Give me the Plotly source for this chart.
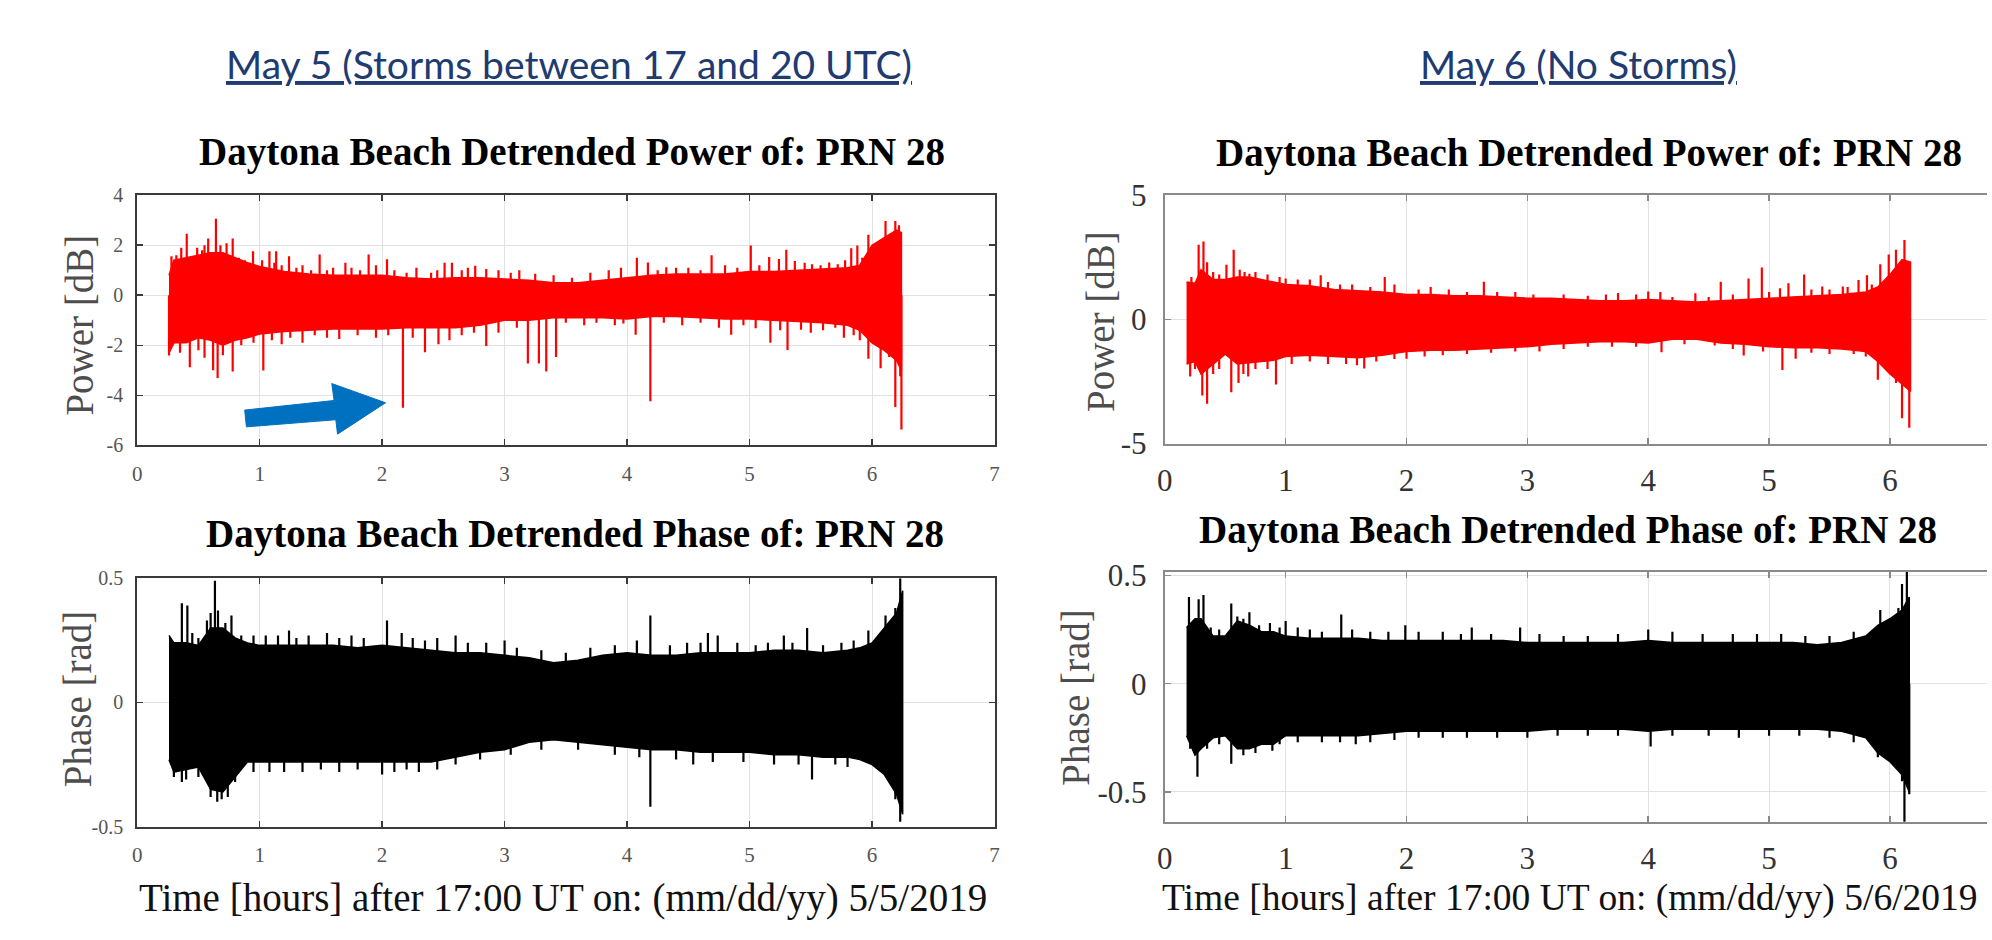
import plotly.graph_objects as go

W, H = 1992, 940

# ---------------- data ----------------
# May 5 - detrended power [dB]: envelope of the dense trace, then isolated spikes
p5_t  = [0.26, 0.3, 0.4, 0.5, 0.6, 0.7, 0.8, 0.9, 1.0, 1.2, 1.4, 1.6, 1.8, 2.0, 2.2, 2.4, 2.6, 2.8, 3.0,
         3.2, 3.4, 3.6, 3.8, 4.0, 4.2, 4.4, 4.6, 4.8, 5.0, 5.2, 5.4, 5.6, 5.8, 5.9, 6.0, 6.1, 6.2, 6.24]
p5_hi = [0.8, 1.4, 1.5, 1.6, 1.7, 1.7, 1.5, 1.3, 1.15, 0.95, 0.85, 0.8, 0.8, 0.8, 0.7, 0.65, 0.7, 0.7, 0.65,
         0.6, 0.5, 0.5, 0.6, 0.7, 0.8, 0.85, 0.85, 0.85, 0.95, 0.95, 1.0, 1.05, 1.1, 1.2, 2.0, 2.3, 2.6, 2.5]
p5_lo = [-2.3, -1.9, -1.9, -1.7, -1.8, -2.0, -1.8, -1.7, -1.55, -1.45, -1.4, -1.35, -1.35, -1.35, -1.3, -1.3, -1.3, -1.2, -1.0,
         -1.0, -0.9, -0.9, -0.9, -0.95, -0.85, -0.85, -0.9, -0.95, -0.95, -1.0, -1.05, -1.1, -1.2, -1.4, -1.9, -2.2, -2.6, -3.0]
p5_spk_t = [0.28, 0.32, 0.36, 0.405, 0.45, 0.49, 0.53, 0.55, 0.58, 0.643, 0.68, 0.70, 0.73, 0.78, 0.83, 0.88, 0.92,
            0.946, 1.02, 1.08, 1.12, 1.135, 1.18, 1.24, 1.3, 1.35, 1.42, 1.49, 1.55, 1.6, 1.70, 1.75, 1.82, 1.89,
            1.95, 2.04, 2.1, 2.2, 2.28, 2.4, 2.45, 2.51, 2.57, 2.65, 2.7, 2.76, 2.85, 2.95, 3.05, 3.12, 3.25, 3.4,
            3.55, 3.7, 3.85, 3.95, 4.08, 4.17, 4.25, 4.32, 4.4, 4.5, 4.6, 4.69, 4.8, 4.9, 5.01, 5.08, 5.16, 5.24,
            5.30, 5.37, 5.45, 5.51, 5.58, 5.65, 5.72, 5.78, 5.83, 5.88, 5.92, 5.97, 6.11, 6.19, 6.22,
            0.26, 0.35, 0.43, 0.5, 0.55, 0.62, 0.657, 0.7, 0.78, 0.85, 0.95, 1.03, 1.1, 1.18, 1.25, 1.35, 1.45,
            1.55, 1.65, 1.8, 1.95, 2.05, 2.17, 2.25, 2.35, 2.46, 2.55, 2.65, 2.75, 2.85, 2.95, 3.1, 3.19, 3.28,
            3.34, 3.42, 3.5, 3.65, 3.75, 3.9, 3.97, 4.07, 4.19, 4.3, 4.45, 4.6, 4.75, 4.85, 4.95, 5.05, 5.17,
            5.25, 5.31, 5.42, 5.5, 5.6, 5.7, 5.77, 5.85, 5.9, 5.97, 6.07, 6.14, 6.19, 6.23, 6.24]
p5_spk_v = [1.56, 1.6, 1.9, 2.46, 1.5, 1.9, 1.8, 2.0, 2.27, 3.06, 2.0, 1.7, 2.08, 2.27, 1.5, 1.4, 1.3,
            1.76, 1.4, 1.76, 1.3, 1.76, 1.2, 1.56, 1.1, 1.2, 1.0, 1.63, 1.0, 1.1, 1.3, 1.1, 1.0, 1.63,
            1.2, 1.44, 1.0, 0.9, 1.1, 0.9, 1.0, 1.3, 1.3, 1.0, 1.1, 1.18, 1.05, 1.0, 0.9, 1.0, 0.86, 0.8,
            0.7, 0.9, 1.0, 1.1, 1.5, 1.31, 1.0, 1.12, 1.1, 1.1, 1.0, 1.6, 1.2, 1.1, 1.99, 1.2, 1.53, 1.45,
            1.82, 1.37, 1.3, 1.24, 1.2, 1.31, 1.24, 1.4, 1.88, 1.99, 1.5, 2.42, 2.97, 2.97, 2.8,
            -2.41, -2.3, -2.88, -2.2, -2.5, -3.0, -3.31, -2.4, -3.05, -2.0, -1.9, -3.01, -1.8, -1.96, -1.7, -1.9, -1.6,
            -1.7, -1.75, -1.6, -1.7, -1.6, -4.49, -1.7, -2.28, -1.96, -1.8, -1.6, -1.5, -2.03, -1.5, -1.3, -2.73, -2.73,
            -3.05, -2.47, -1.1, -1.2, -1.1, -1.2, -1.13, -1.58, -4.24, -1.1, -1.2, -1.1, -1.3, -1.58, -1.2, -1.32, -1.9,
            -1.4, -2.19, -1.38, -1.5, -1.4, -1.3, -1.7, -1.6, -1.8, -2.54, -2.92, -2.47, -4.46, -3.24, -5.36]

# May 5 - detrended phase [rad]
f5_t  = [0.26, 0.3, 0.4, 0.5, 0.6, 0.7, 0.8, 0.9, 1.0, 1.2, 1.4, 1.6, 1.8, 2.0, 2.2, 2.4, 2.6, 2.8, 3.0,
         3.2, 3.4, 3.6, 3.8, 4.0, 4.2, 4.4, 4.6, 4.8, 5.0, 5.2, 5.4, 5.6, 5.8, 5.9, 6.0, 6.1, 6.2, 6.25]
f5_hi = [0.27, 0.24, 0.24, 0.23, 0.3, 0.3, 0.26, 0.24, 0.23, 0.23, 0.23, 0.23, 0.22, 0.23, 0.22, 0.21, 0.2, 0.2, 0.19,
         0.18, 0.16, 0.17, 0.19, 0.2, 0.19, 0.19, 0.2, 0.2, 0.2, 0.21, 0.21, 0.2, 0.21, 0.22, 0.24, 0.3, 0.36, 0.45]
f5_lo = [-0.23, -0.28, -0.27, -0.26, -0.35, -0.36, -0.3, -0.24, -0.24, -0.24, -0.24, -0.24, -0.24, -0.24, -0.24, -0.24, -0.22, -0.2, -0.19,
         -0.16, -0.15, -0.16, -0.17, -0.18, -0.19, -0.19, -0.2, -0.2, -0.2, -0.21, -0.21, -0.22, -0.22, -0.23, -0.25, -0.29, -0.37, -0.45]
f5_spk_t = [0.365, 0.41, 0.45, 0.5, 0.57, 0.60, 0.635, 0.66, 0.72, 0.77, 0.85, 0.95, 1.05, 1.15, 1.24, 1.3, 1.4,
            1.55, 1.65, 1.75, 1.85, 2.04, 2.16, 2.25, 2.35, 2.45, 2.6, 2.7, 2.85, 3.0, 3.1, 3.3, 3.5, 3.7, 3.9,
            4.08, 4.19, 4.35, 4.49, 4.6, 4.66, 4.74, 4.9, 5.05, 5.15, 5.28, 5.35, 5.47, 5.6, 5.75, 5.85, 5.97,
            6.11, 6.19, 6.23,
            0.30, 0.365, 0.4, 0.5, 0.60, 0.654, 0.69, 0.74, 0.8, 0.95, 1.08, 1.2, 1.35, 1.5, 1.65, 1.8, 2.0,
            2.1, 2.2, 2.3, 2.45, 2.6, 2.8, 3.05, 3.3, 3.6, 3.9, 4.1, 4.19, 4.4, 4.54, 4.7, 4.95, 5.2, 5.4,
            5.51, 5.7, 5.8, 6.19, 6.23]
f5_spk_v = [0.40, 0.39, 0.28, 0.26, 0.33, 0.36, 0.49, 0.37, 0.32, 0.35, 0.27, 0.27, 0.27, 0.27, 0.29, 0.26, 0.27,
            0.28, 0.26, 0.27, 0.26, 0.33, 0.28, 0.26, 0.25, 0.26, 0.27, 0.24, 0.24, 0.25, 0.22, 0.21, 0.2, 0.22, 0.23,
            0.25, 0.35, 0.23, 0.24, 0.24, 0.28, 0.27, 0.24, 0.23, 0.24, 0.27, 0.24, 0.30, 0.23, 0.24, 0.25, 0.29,
            0.35, 0.38, 0.50,
            -0.30, -0.32, -0.31, -0.30, -0.38, -0.40, -0.39, -0.38, -0.32, -0.28, -0.28, -0.28, -0.28, -0.27, -0.28, -0.27, -0.29,
            -0.28, -0.27, -0.28, -0.27, -0.25, -0.23, -0.21, -0.19, -0.19, -0.21, -0.22, -0.42, -0.23, -0.25, -0.24, -0.24, -0.25, -0.25,
            -0.31, -0.25, -0.26, -0.39, -0.48]

# May 6 - detrended power [dB]
p6_t  = [0.18, 0.25, 0.3, 0.4, 0.5, 0.6, 0.7, 0.8, 0.9, 1.0, 1.2, 1.4, 1.6, 1.8, 2.0, 2.2, 2.4, 2.6, 2.8, 3.0,
         3.2, 3.4, 3.6, 3.8, 4.0, 4.2, 4.4, 4.6, 4.8, 5.0, 5.2, 5.4, 5.6, 5.8, 5.9, 6.0, 6.1, 6.17]
p6_hi = [1.5, 1.45, 2.0, 1.6, 1.6, 1.7, 1.7, 1.6, 1.5, 1.4, 1.35, 1.2, 1.15, 1.1, 1.0, 1.0, 0.95, 0.95, 0.9, 0.85,
         0.85, 0.8, 0.75, 0.75, 0.8, 0.75, 0.7, 0.75, 0.8, 0.85, 0.9, 0.95, 1.0, 1.1, 1.3, 1.8, 2.4, 2.3]
p6_lo = [-1.8, -1.7, -2.2, -1.8, -1.4, -1.8, -1.75, -1.7, -1.65, -1.5, -1.45, -1.5, -1.55, -1.45, -1.3, -1.25, -1.25, -1.2, -1.15, -1.1,
         -1.0, -0.95, -0.9, -0.9, -0.95, -0.8, -0.8, -0.95, -1.0, -1.1, -1.15, -1.15, -1.2, -1.3, -1.7, -2.2, -2.6, -2.9]
p6_spk_t = [0.22, 0.28, 0.32, 0.35, 0.4, 0.45, 0.51, 0.57, 0.62, 0.66, 0.70, 0.75, 0.85, 0.95, 1.0, 1.1, 1.2,
            1.29, 1.35, 1.45, 1.55, 1.7, 1.82, 1.9, 2.1, 2.2, 2.35, 2.5, 2.64, 2.75, 2.9, 3.05, 3.3, 3.5, 3.65,
            3.75, 3.9, 4.0, 4.1, 4.2, 4.39, 4.5, 4.6, 4.7, 4.83, 4.94, 5.0, 5.09, 5.16, 5.29, 5.35, 5.44, 5.5,
            5.61, 5.65, 5.74, 5.81, 5.85, 5.92, 5.99, 6.05, 6.12,
            0.21, 0.25, 0.31, 0.35, 0.4, 0.45, 0.55, 0.61, 0.65, 0.69, 0.75, 0.85, 0.92, 1.05, 1.2, 1.35, 1.5,
            1.59, 1.65, 1.75, 1.9, 2.0, 2.15, 2.3, 2.5, 2.7, 2.9, 3.1, 3.3, 3.5, 3.7, 3.9, 4.11, 4.3, 4.55,
            4.7, 4.79, 4.95, 5.11, 5.22, 5.35, 5.5, 5.7, 5.8, 5.90, 6.05, 6.10, 6.16]
p6_spk_v = [1.7, 3.0, 3.13, 2.3, 1.9, 1.8, 2.2, 2.8, 2.0, 1.9, 1.83, 1.9, 1.8, 1.7, 1.64, 1.6, 1.6,
            1.77, 1.5, 1.4, 1.4, 1.3, 1.7, 1.4, 1.2, 1.3, 1.2, 1.1, 1.51, 1.1, 1.1, 1.0, 1.0, 0.95, 1.0,
            1.06, 1.0, 1.12, 1.1, 0.9, 1.05, 0.9, 1.51, 1.0, 1.64, 2.09, 1.1, 1.25, 1.45, 1.8, 1.2, 1.32, 1.2,
            1.32, 1.3, 1.58, 1.77, 1.4, 2.22, 2.61, 2.8, 3.19,
            -2.3, -2.0, -3.07, -3.4, -2.2, -2.0, -2.94, -2.56, -2.2, -2.3, -2.0, -2.0, -2.62, -1.8, -1.7, -1.8, -1.8,
            -1.85, -1.98, -1.7, -1.6, -1.59, -1.5, -1.45, -1.4, -1.35, -1.3, -1.3, -1.2, -1.1, -1.1, -1.1, -1.33, -1.0, -1.05,
            -1.2, -1.46, -1.3, -2.04, -1.59, -1.35, -1.4, -1.4, -1.5, -2.43, -2.56, -3.98, -4.37]

# May 6 - detrended phase [rad]
f6_t  = [0.18, 0.25, 0.3, 0.4, 0.5, 0.6, 0.7, 0.8, 0.9, 1.0, 1.2, 1.4, 1.6, 1.8, 2.0, 2.2, 2.4, 2.6, 2.8, 3.0,
         3.2, 3.4, 3.6, 3.8, 4.0, 4.2, 4.4, 4.6, 4.8, 5.0, 5.2, 5.4, 5.6, 5.8, 5.9, 6.0, 6.1, 6.16]
f6_hi = [0.26, 0.3, 0.3, 0.22, 0.22, 0.29, 0.27, 0.24, 0.24, 0.22, 0.21, 0.21, 0.21, 0.2, 0.2, 0.2, 0.2, 0.2, 0.2, 0.19,
         0.19, 0.19, 0.19, 0.19, 0.2, 0.19, 0.19, 0.19, 0.19, 0.19, 0.19, 0.18, 0.19, 0.22, 0.27, 0.3, 0.34, 0.4]
f6_lo = [-0.24, -0.33, -0.3, -0.25, -0.24, -0.3, -0.3, -0.28, -0.28, -0.24, -0.24, -0.24, -0.24, -0.23, -0.22, -0.22, -0.22, -0.22, -0.22, -0.22,
         -0.21, -0.21, -0.21, -0.21, -0.22, -0.21, -0.21, -0.21, -0.21, -0.21, -0.21, -0.21, -0.22, -0.25, -0.32, -0.36, -0.42, -0.5]
f6_spk_t = [0.2, 0.28, 0.32, 0.38, 0.45, 0.55, 0.6, 0.65, 0.70, 0.78, 0.87, 0.95, 1.0, 1.1, 1.2, 1.3, 1.46,
            1.55, 1.7, 1.85, 1.99, 2.1, 2.3, 2.45, 2.54, 2.7, 2.94, 3.1, 3.3, 3.5, 3.75, 4.0, 4.2, 4.45, 4.7,
            4.9, 5.1, 5.3, 5.5, 5.7, 5.92, 6.07, 6.10, 6.14,
            0.21, 0.27, 0.35, 0.45, 0.55, 0.65, 0.75, 0.89, 0.95, 1.1, 1.3, 1.45, 1.58, 1.7, 1.9, 2.1, 2.3,
            2.5, 2.75, 3.0, 3.25, 3.5, 3.75, 4.02, 4.2, 4.5, 4.75, 5.0, 5.25, 5.5, 5.7, 5.9, 6.10, 6.12, 6.16]
f6_spk_v = [0.40, 0.39, 0.41, 0.26, 0.25, 0.37, 0.31, 0.30, 0.33, 0.27, 0.28, 0.26, 0.29, 0.26, 0.25, 0.24, 0.32,
            0.25, 0.24, 0.24, 0.27, 0.24, 0.24, 0.23, 0.26, 0.23, 0.26, 0.23, 0.22, 0.22, 0.23, 0.25, 0.24, 0.23, 0.23,
            0.23, 0.23, 0.22, 0.22, 0.24, 0.34, 0.35, 0.46, 0.52,
            -0.30, -0.43, -0.30, -0.28, -0.37, -0.33, -0.32, -0.31, -0.28, -0.27, -0.27, -0.27, -0.28, -0.27, -0.26, -0.25, -0.25,
            -0.25, -0.25, -0.25, -0.24, -0.24, -0.24, -0.29, -0.24, -0.24, -0.25, -0.24, -0.24, -0.25, -0.27, -0.34, -0.45, -0.64, -0.51]

# arrow (in May 5 power axes units)
arrow_t = [0.878, 1.608, 1.589, 2.028, 1.636, 1.622, 0.892]
arrow_v = [-4.588, -4.204, -3.527, -4.296, -5.550, -4.973, -5.258]

x_ticks_left = [0, 1, 2, 3, 4, 5, 6, 7]
x_ticks_right = [0, 1, 2, 3, 4, 5, 6]

# ---------------- figure ----------------
SERIF = "Liberation Serif"
RED, BLACK = "#ff0000", "#000000"

def px(x):
    return x / W

def py(y):
    return 1 - y / H

fig = go.Figure()

def add_body(t, hi, lo, color, xa, ya):
    fig.add_trace(go.Scatter(x=list(t) + list(t)[::-1], y=list(hi) + list(lo)[::-1],
                             mode="lines", fill="toself", fillcolor=color,
                             line=dict(color=color, width=1.5), xaxis=xa, yaxis=ya,
                             hoverinfo="skip", showlegend=False))

def add_spikes(st, sv, color, xa, ya):
    xs, ys = [], []
    for a, b in zip(st, sv):
        xs += [a, a, None]
        ys += [0, b, None]
    fig.add_trace(go.Scatter(x=xs, y=ys, mode="lines", line=dict(color=color, width=2.2),
                             xaxis=xa, yaxis=ya, hoverinfo="skip", showlegend=False))

add_body(p5_t, p5_hi, p5_lo, RED, "x", "y")
add_spikes(p5_spk_t, p5_spk_v, RED, "x", "y")
add_body(p6_t, p6_hi, p6_lo, RED, "x2", "y2")
add_spikes(p6_spk_t, p6_spk_v, RED, "x2", "y2")
add_body(f5_t, f5_hi, f5_lo, BLACK, "x3", "y3")
add_spikes(f5_spk_t, f5_spk_v, BLACK, "x3", "y3")
add_body(f6_t, f6_hi, f6_lo, BLACK, "x4", "y4")
add_spikes(f6_spk_t, f6_spk_v, BLACK, "x4", "y4")

left_line = "#3a3a3a"
right_line = "#8a8a8a"
grid = "#e2e2e2"

def xaxis(dom, rng, ticks, anchor, lc, fs, fc, standoff):
    return dict(domain=dom, range=rng, tickvals=ticks, ticktext=[str(v) for v in ticks],
                anchor=anchor, showline=True, linecolor=lc, linewidth=2, mirror="ticks",
                ticks="inside", ticklen=6, tickcolor=lc, tickwidth=1.5,
                showgrid=True, gridcolor=grid, gridwidth=1, zeroline=False,
                tickfont=dict(family=SERIF, size=fs, color=fc), ticklabelstandoff=standoff,
                fixedrange=True)

def yaxis(dom, rng, ticks, labels, anchor, lc, fs, fc, mirror, standoff):
    return dict(domain=dom, range=rng, tickvals=ticks, ticktext=labels,
                anchor=anchor, showline=True, linecolor=lc, linewidth=2, mirror=mirror,
                ticks="inside", ticklen=6, tickcolor=lc, tickwidth=1.5,
                showgrid=True, gridcolor=grid, gridwidth=1, zeroline=False,
                tickfont=dict(family=SERIF, size=fs, color=fc), ticklabelstandoff=standoff,
                fixedrange=True)

xl = [px(130), px(993)]
xr = [px(1164.4), 1.0]
r_max = (W - 1164.4) / 121.65

fig.update_layout(
    width=W, height=H, margin=dict(l=0, r=0, t=0, b=0),
    paper_bgcolor="white", plot_bgcolor="white", showlegend=False,
    xaxis=xaxis(xl, [0, 7], x_ticks_left, "y", left_line, 21, "#555555", 8),
    yaxis=yaxis([py(445), py(185)], [-6, 4], [-6, -4, -2, 0, 2, 4], ["-6", "-4", "-2", "0", "2", "4"],
                "x", left_line, 20, "#555555", "ticks", 8),
    xaxis2=xaxis(xr, [0, r_max], x_ticks_right, "y2", right_line, 31, "#333333", 8),
    yaxis2=yaxis([py(443), py(185)], [-5, 5], [-5, 0, 5], ["-5", "0", "5"],
                 "x2", right_line, 31, "#333333", False, 10),
    xaxis3=xaxis(xl, [0, 7], x_ticks_left, "y3", left_line, 21, "#555555", 8),
    yaxis3=yaxis([py(841), py(583)], [-0.5, 0.5], [-0.5, 0, 0.5], ["-0.5", "0", "0.5"],
                 "x3", left_line, 20, "#555555", "ticks", 8),
    xaxis4=xaxis(xr, [0, r_max], x_ticks_right, "y4", right_line, 31, "#333333", 8),
    yaxis4=yaxis([py(836), py(576)], [-0.638, 0.518], [-0.5, 0, 0.5], ["-0.5", "0", "0.5"],
                 "x4", right_line, 31, "#333333", False, 10),
)

# blue block arrow pointing at the 2.17 h dip
path = "M " + " L ".join(f"{a} {b}" for a, b in zip(arrow_t, arrow_v)) + " Z"
fig.add_shape(type="path", path=path, xref="x", yref="y", fillcolor="#0070c0",
              line=dict(color="#0070c0", width=1), layer="above")

def note(text, x, y, size, color="#000000", family=SERIF, xanchor="center", angle=0):
    fig.add_annotation(text=text, x=px(x), y=py(y), xref="paper", yref="paper",
                       xanchor=xanchor, yanchor="middle", showarrow=False, textangle=angle,
                       font=dict(family=family, size=size, color=color))

HEAD = "#203a72"
note("<u>May 5 (Storms between 17 and 20 UTC)</u>", 565, 49, 39, HEAD, "Lato")
note("<u>May 6 (No Storms)</u>", 1581, 49, 39, HEAD, "Lato")

note("<b>Daytona Beach Detrended Power of: PRN 28</b>", 568, 140, 39)
note("<b>Daytona Beach Detrended Power of: PRN 28</b>", 1591, 141, 39)
note("<b>Daytona Beach Detrended Phase of: PRN 28</b>", 571, 537, 39)
note("<b>Daytona Beach Detrended Phase of: PRN 28</b>", 1570, 533, 39)

note("Power [dB]", 72, 320, 39, "#4d4d4d", angle=-90)
note("Power [dB]", 1099, 316, 39, "#4d4d4d", angle=-90)
note("Phase [rad]", 70, 708, 39, "#4d4d4d", angle=-90)
note("Phase [rad]", 1075, 706, 39, "#4d4d4d", angle=-90)

note("Time [hours] after 17:00 UT on: (mm/dd/yy) 5/5/2019", 130, 915, 39, "#111111", xanchor="left")
note("Time [hours] after 17:00 UT on: (mm/dd/yy) 5/6/2019", 1160, 915, 37.5, "#111111", xanchor="left")

fig.write_html("out.html", include_plotlyjs=True, full_html=True,
               config={"displayModeBar": False, "staticPlot": True},
               post_script="document.body.style.margin='0';document.body.style.overflow='hidden';")
